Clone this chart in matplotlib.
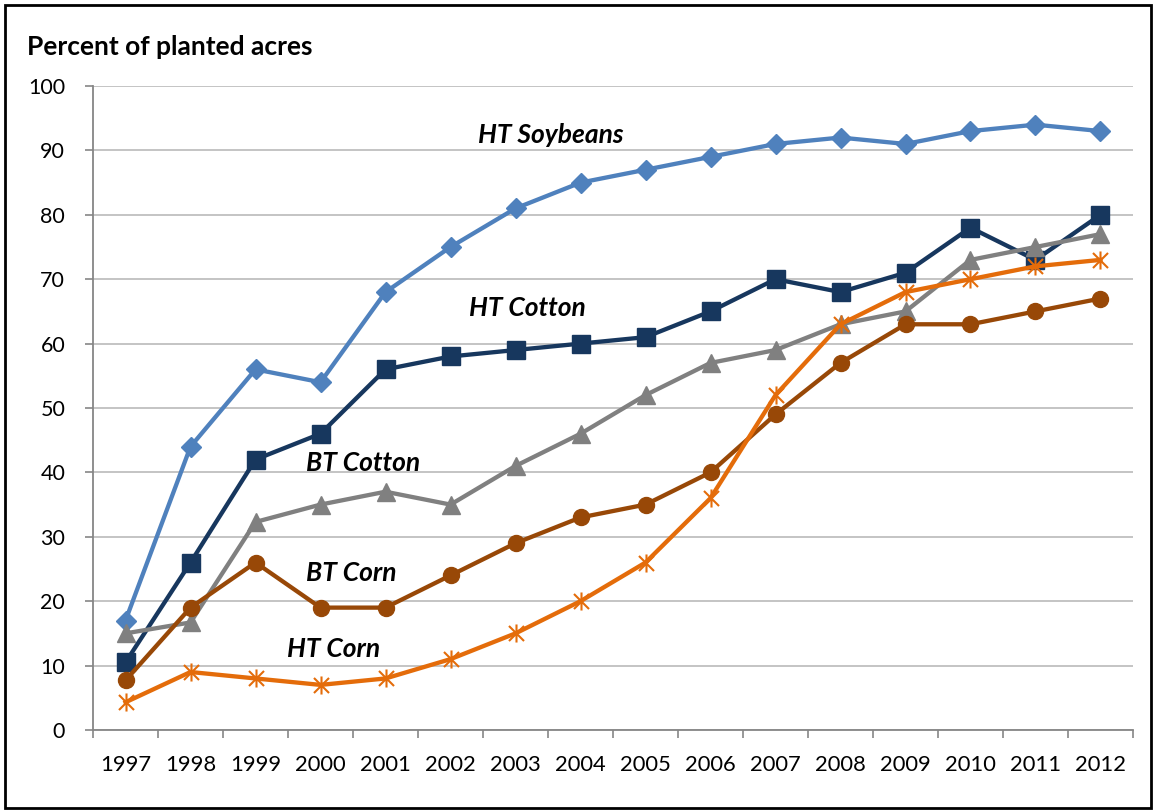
import numpy as np
import matplotlib.pyplot as plt
from matplotlib.path import Path

plt.rcParams['font.family'] = ['Lato', 'DejaVu Sans']

years = ['1997', '1998', '1999', '2000', '2001', '2002', '2003', '2004',
         '2005', '2006', '2007', '2008', '2009', '2010', '2011', '2012']
ht_soy = [17, 44, 56, 54, 68, 75, 81, 85, 87, 89, 91, 92, 91, 93, 94, 93]
ht_cotton = [10.5, 26, 42, 46, 56, 58, 59, 60, 61, 65, 70, 68, 71, 78, 73, 80]
bt_cotton = [15, 16.7, 32.3, 35, 37, 35, 41, 46, 52, 57, 59, 63, 65, 73, 75, 77]
bt_corn = [7.7, 19, 26, 19, 19, 24, 29, 33, 35, 40, 49, 57, 63, 63, 65, 67]
ht_corn = [4.3, 9, 8, 7, 8, 11, 15, 20, 26, 36, 52, 63, 68, 70, 72, 73]

# excel style asterisk: x plus a vertical bar
star = Path([(-1, -1), (1, 1), (-1, 1), (1, -1), (0, -1.2), (0, 1.2)],
            [Path.MOVETO, Path.LINETO, Path.MOVETO, Path.LINETO, Path.MOVETO, Path.LINETO])

fig = plt.figure(figsize=(11.54, 8.10), dpi=100)
ax = fig.add_axes([0.0806, 0.0988, 0.9012, 0.795])
x = np.arange(len(years))

ax.plot(x, ht_soy, color='#4F81BD', lw=3.1, marker='D', ms=10, zorder=3)
ax.plot(x, ht_cotton, color='#17375E', lw=3.1, marker='s', ms=13, zorder=3)
ax.plot(x, bt_cotton, color='#808080', lw=3.1, marker='^', ms=13, zorder=3)
ax.plot(x, bt_corn, color='#984807', lw=3.1, marker='o', ms=11.5, zorder=3)
ax.plot(x, ht_corn, color='#E46C0A', lw=3.1, marker=star, ms=13, mew=1.5, zorder=3)

lab = dict(fontsize=19, fontweight='bold', fontstyle='italic', ha='center', va='center')
ax.text(6.54, 92.4, 'HT Soybeans', **lab)
ax.text(6.19, 65.5, 'HT Cotton', **lab)
ax.text(3.66, 41.5, 'BT Cotton', **lab)
ax.text(3.48, 24.4, 'BT Corn', **lab)
ax.text(3.2, 12.6, 'HT Corn', **lab)

ax.set_xlim(-0.5, len(years) - 0.5)
ax.set_ylim(0, 100)
ax.set_yticks(np.arange(0, 101, 10))
ax.set_xticks(np.arange(-0.5, len(years), 1))
ax.set_xticklabels([])
ax.set_xticks(x, minor=True)
ax.set_xticklabels(years, minor=True)
ax.tick_params(axis='x', which='minor', length=0, pad=18, labelsize=15.8)
ax.tick_params(axis='x', which='major', length=6, color='#868686', width=1.2)
ax.tick_params(axis='y', length=6, color='#868686', width=1.2, labelsize=15.5, pad=14)
ax.grid(axis='y', color='#BFBFBF', lw=1.3)
ax.set_axisbelow(True)
for s in ['top', 'right']:
    ax.spines[s].set_visible(False)
for s in ['left', 'bottom']:
    ax.spines[s].set_color('#868686')
    ax.spines[s].set_linewidth(1.3)

fig.text(0.023, 0.942, 'Percent of planted acres', fontsize=19, fontweight='bold', va='center')

fig.patches.append(plt.Rectangle((0.004, 0.003), 0.993, 0.991, transform=fig.transFigure,
                                 fill=False, edgecolor='black', lw=2))

fig.savefig('out.png', dpi=100)
